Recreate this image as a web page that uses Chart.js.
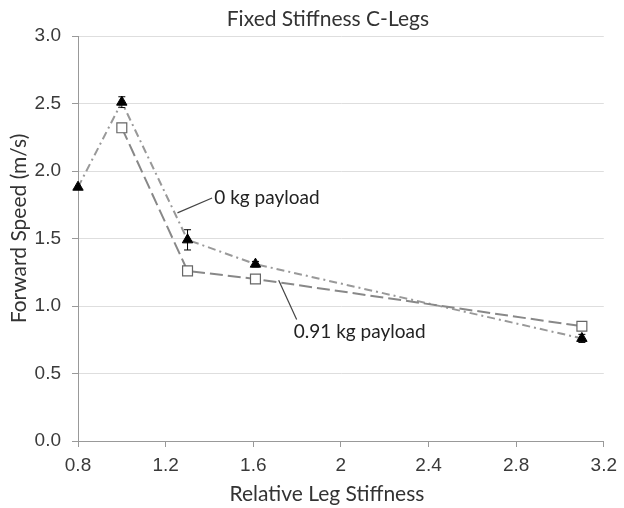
<!DOCTYPE html>
<html>
<head>
<meta charset="utf-8">
<script src="https://cdn.jsdelivr.net/npm/chart.js@4.4.0/dist/chart.umd.min.js"></script>
<style>
html,body{margin:0;padding:0;background:#fff;}
#wrap{width:624px;height:508px;}
</style>
</head>
<body>
<div id="wrap"><canvas id="c" width="624" height="508"></canvas></div>
<script>
// Data
const stiffness0 = [0.8, 1.0, 1.3, 1.61, 3.1];
const speed0 = [1.88, 2.51, 1.49, 1.31, 0.76];
const err0 = [0.0, 0.04, 0.075, 0.02, 0.03];

const stiffness91 = [1.0, 1.3, 1.61, 3.1];
const speed91 = [2.32, 1.26, 1.20, 0.85];
const err91 = [0.03, 0.01, 0.01, 0.03];

const xTicks = [0.8, 1.2, 1.6, 2.0, 2.4, 2.8, 3.2];
const xTickLabels = ['0.8', '1.2', '1.6', '2', '2.4', '2.8', '3.2'];
const yTicks = [0, 0.5, 1, 1.5, 2, 2.5, 3];
const yTickLabels = ['0.0', '0.5', '1.0', '1.5', '2.0', '2.5', '3.0'];

const titleText = 'Fixed Stiffness C-Legs';
const xTitle = 'Relative Leg Stiffness';
const yTitle = 'Forward Speed (m/s)';

const annotations = [
  { text: '0 kg payload', from: [1.254, 1.69], to: [1.412, 1.80], label: [1.422, 1.80] },
  { text: '0.91 kg payload', from: [1.716, 1.19], to: [1.798, 0.90], label: [1.785, 0.805] }
];

const FONT = 'Lato, "Open Sans", sans-serif';
const TICKFONT = '"Liberation Sans", Arial, sans-serif';
const TXT = '#3a3a3a';

const toPts = (xs, ys) => xs.map((x, i) => ({ x: x, y: ys[i] }));

const errorBars = {
  id: 'errorBars',
  beforeDatasetsDraw(chart) {
    const ctx = chart.ctx;
    const xs = chart.scales.x, ys = chart.scales.y;
    const sets = [[stiffness0, speed0, err0, '#000'], [stiffness91, speed91, err91, '#555']];
    ctx.save();
    ctx.lineWidth = 1;
    sets.forEach(([sx, sy, se, col]) => {
      ctx.strokeStyle = col;
      sx.forEach((x, i) => {
        if (!se[i]) return;
        const px = xs.getPixelForValue(x);
        const top = ys.getPixelForValue(sy[i] + se[i]);
        const bot = ys.getPixelForValue(sy[i] - se[i]);
        ctx.beginPath();
        ctx.moveTo(px, top); ctx.lineTo(px, bot);
        ctx.moveTo(px - 3.5, top); ctx.lineTo(px + 3.5, top);
        ctx.moveTo(px - 3.5, bot); ctx.lineTo(px + 3.5, bot);
        ctx.stroke();
      });
    });
    ctx.restore();
  }
};

const notes = {
  id: 'notes',
  afterDraw(chart) {
    const ctx = chart.ctx;
    const xs = chart.scales.x, ys = chart.scales.y;
    ctx.save();
    annotations.forEach(a => {
      ctx.strokeStyle = '#444';
      ctx.lineWidth = 1.2;
      ctx.beginPath();
      ctx.moveTo(xs.getPixelForValue(a.from[0]), ys.getPixelForValue(a.from[1]));
      ctx.lineTo(xs.getPixelForValue(a.to[0]), ys.getPixelForValue(a.to[1]));
      ctx.stroke();
      ctx.fillStyle = '#222';
      ctx.font = '19px ' + FONT;
      ctx.textAlign = 'left';
      ctx.textBaseline = 'middle';
      ctx.fillText(a.text, xs.getPixelForValue(a.label[0]), ys.getPixelForValue(a.label[1]));
    });
    const ca = chart.chartArea;
    ctx.fillStyle = '#333';
    ctx.font = '21px ' + FONT;
    ctx.textAlign = 'center';
    ctx.textBaseline = 'middle';
    // chart title
    ctx.fillText(titleText, (ca.left + ca.right) / 2 - 13, 19);
    // x axis title
    ctx.fillText(xTitle, (ca.left + ca.right) / 2 - 14, 494);
    // y axis title
    ctx.translate(19, (ca.top + ca.bottom) / 2 - 10);
    ctx.rotate(-Math.PI / 2);
    ctx.fillText(yTitle, 0, 0);
    ctx.restore();
  }
};

new Chart(document.getElementById('c'), {
  type: 'scatter',
  data: {
    datasets: [
      {
        label: '0 kg payload',
        data: toPts(stiffness0, speed0),
        showLine: true,
        clip: false,
        borderColor: '#999',
        borderWidth: 2,
        borderDash: [8, 4, 2, 4],
        pointStyle: 'triangle',
        pointRadius: 6,
        pointBackgroundColor: '#000',
        pointBorderColor: '#000',
        pointBorderWidth: 1,
        order: 2
      },
      {
        label: '0.91 kg payload',
        data: toPts(stiffness91, speed91),
        showLine: true,
        clip: false,
        borderColor: '#888',
        borderWidth: 2,
        borderDash: [13, 5],
        pointStyle: 'rect',
        pointRadius: 7,
        pointBackgroundColor: '#fff',
        pointBorderColor: '#666',
        pointBorderWidth: 1.2,
        order: 1
      }
    ]
  },
  options: {
    responsive: false,
    animation: false,
    layout: { padding: { top: 36, right: 17, left: 0, bottom: 0 } },
    plugins: {
      legend: { display: false },
      tooltip: { enabled: false },
      title: { display: false }
    },
    scales: {
      x: {
        type: 'linear',
        min: 0.8, max: 3.2,
        afterBuildTicks: s => { s.ticks = xTicks.map(v => ({ value: v })); },
        afterFit: s => { s.height = 67; },
        ticks: {
          callback: (v, i) => xTickLabels[i],
          font: { family: TICKFONT, size: 19 },
          color: TXT,
          padding: 7,
          maxRotation: 0
        },
        grid: { drawOnChartArea: false, drawTicks: true, tickLength: 6, tickColor: '#999' },
        border: { color: '#999', width: 1 }
      },
      y: {
        type: 'linear',
        min: 0, max: 3,
        afterBuildTicks: s => { s.ticks = yTicks.map(v => ({ value: v })); },
        afterFit: s => { s.width = 78; },
        ticks: {
          callback: (v, i) => yTickLabels[i],
          font: { family: TICKFONT, size: 19 },
          color: TXT,
          padding: 11
        },
        grid: { color: '#dedede', lineWidth: 1, drawTicks: true, tickLength: 6, tickColor: '#999' },
        border: { color: '#999', width: 1 }
      }
    }
  },
  plugins: [errorBars, notes]
});
</script>
</body>
</html>
